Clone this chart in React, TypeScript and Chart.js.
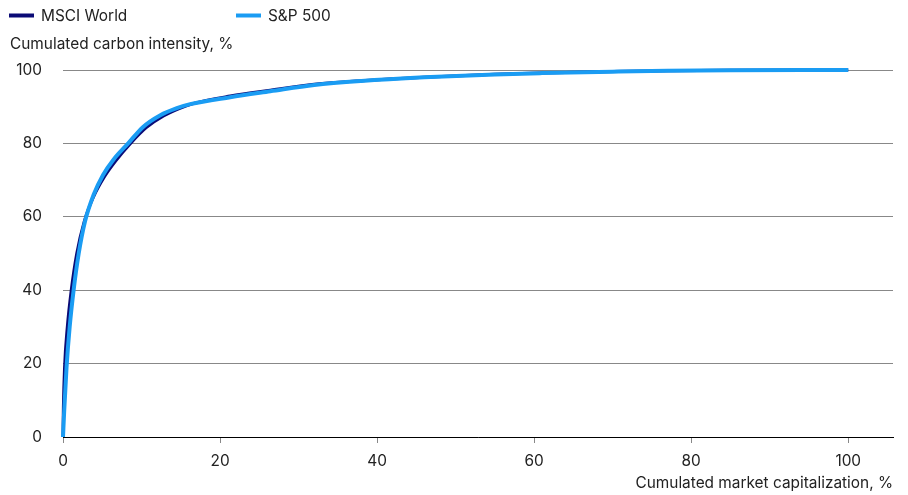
import React, { useEffect, useRef } from "react";
import { Chart, registerables } from "chart.js";

Chart.register(...registerables);

const seriesNames = ["MSCI World", "S&P 500"];
const seriesColors = ["#0b0b76", "#1a9cf3"];

const msciX = [0, 0.05, 0.2, 0.55, 1.05, 1.75, 2.7, 3.9, 5.3, 6.7, 8.6, 10.6, 12.8, 14.8, 16.5, 21.3, 26.4, 32, 38, 46, 55, 61, 70, 77, 85, 100];
const msciY = [0, 8, 19, 30, 40, 50, 58.7, 65.5, 71, 75.2, 80, 84.3, 87.5, 89.5, 90.8, 92.9, 94.5, 96.1, 97.1, 98.05, 98.85, 99.2, 99.6, 99.8, 99.92, 100];

const spX = [0, 0.15, 0.45, 0.85, 1.35, 2.0, 2.8, 3.9, 5.1, 6.4, 8.3, 10.2, 12.4, 14.5, 16.2, 21.3, 26.4, 32, 38, 46, 55, 61, 70, 77, 85, 100];
const spY = [0, 7, 19, 30, 40, 50, 58.7, 66, 71.4, 75.5, 80, 84.5, 87.7, 89.6, 90.7, 92.6, 94.2, 95.9, 97.0, 98.0, 98.8, 99.15, 99.55, 99.8, 99.92, 100];

const xTicks = [0, 20, 40, 60, 80, 100];
const yTicks = [0, 20, 40, 60, 80, 100];

const xTitle = "Cumulated market capitalization, %";
const yTitle = "Cumulated carbon intensity, %";

const FONT = "Inter, 'Noto Sans', sans-serif";
const FSIZE = 15.4;

const overlayPlugin = {
  id: "overlayLegend",
  afterDraw(chart: any) {
    const ctx = chart.ctx;
    ctx.save();
    ctx.font = `${FSIZE}px ${FONT}`;
    ctx.textBaseline = "middle";
    ctx.textAlign = "left";
    const starts = [9, 236];
    chart.data.datasets.forEach((ds: any, i: number) => {
      const x0 = starts[i];
      ctx.strokeStyle = ds.borderColor;
      ctx.lineWidth = 4;
      ctx.lineCap = "butt";
      ctx.beginPath();
      ctx.moveTo(x0, 15.5);
      ctx.lineTo(x0 + 25, 15.5);
      ctx.stroke();
      ctx.fillStyle = "#222";
      ctx.fillText(ds.label, x0 + 32, 16);
    });
    ctx.fillStyle = "#222";
    ctx.fillText(yTitle, 10, 44);
    ctx.restore();
  },
};

export default function App() {
  const ref = useRef<HTMLCanvasElement | null>(null);

  useEffect(() => {
    document.body.style.margin = "0";
    const canvas = ref.current;
    if (!canvas) return;
    const chart = new Chart(canvas, {
      type: "line",
      data: {
        datasets: [
          {
            label: seriesNames[0],
            data: msciX.map((x, i) => ({ x, y: msciY[i] })),
            borderColor: seriesColors[0],
            backgroundColor: seriesColors[0],
            borderWidth: 3,
            pointRadius: 0,
            cubicInterpolationMode: "monotone",
            clip: false,
            order: 1,
          },
          {
            label: seriesNames[1],
            data: spX.map((x, i) => ({ x, y: spY[i] })),
            borderColor: seriesColors[1],
            backgroundColor: seriesColors[1],
            borderWidth: 4,
            pointRadius: 0,
            cubicInterpolationMode: "monotone",
            clip: false,
            order: 0,
          },
        ],
      },
      options: {
        responsive: false,
        animation: false,
        layout: { padding: { top: 70, right: 15, left: 0, bottom: 0 } },
        plugins: {
          legend: { display: false },
          tooltip: { enabled: false },
        },
        scales: {
          x: {
            type: "linear",
            min: 0,
            max: 105.7,
            afterBuildTicks: (s: any) => {
              s.ticks = xTicks.map((v) => ({ value: v }));
            },
            afterFit: (s: any) => {
              s.height = 58;
            },
            grid: {
              display: true,
              drawOnChartArea: false,
              drawTicks: true,
              tickLength: 6,
              color: "#888",
            },
            border: { display: true, color: "#000", width: 1 },
            ticks: {
              padding: 9,
              color: "#222",
              font: { family: FONT, size: FSIZE },
              maxRotation: 0,
            },
            title: {
              display: true,
              text: xTitle,
              align: "end",
              color: "#222",
              font: { family: FONT, size: FSIZE },
              padding: { top: 0, bottom: 2 },
            },
          },
          y: {
            min: 0,
            max: 100,
            afterBuildTicks: (s: any) => {
              s.ticks = yTicks.map((v) => ({ value: v }));
            },
            afterFit: (s: any) => {
              s.width = 63;
            },
            grid: {
              color: "#888",
              lineWidth: 1,
              drawTicks: false,
            },
            border: { display: false },
            ticks: {
              padding: 21,
              color: "#222",
              font: { family: FONT, size: FSIZE },
            },
          },
        },
      },
      plugins: [overlayPlugin],
    } as any);
    return () => chart.destroy();
  }, []);

  return <canvas ref={ref} width={908} height={495} style={{ display: "block" }} />;
}
